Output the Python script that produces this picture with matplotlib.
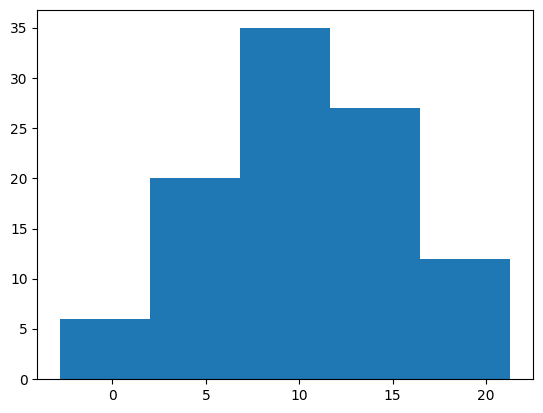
import matplotlib
matplotlib.use("Agg")
import matplotlib.pyplot as plt

# bin edges and counts
bin_edges = [-2.82, 2.0, 6.83, 11.65, 16.47, 21.3]
counts = [6, 20, 35, 27, 12]

centers = [(a + b) / 2 for a, b in zip(bin_edges[:-1], bin_edges[1:])]

fig = plt.figure(figsize=(5.43, 4.13), dpi=100)
ax = fig.add_axes([0.0687, 0.0823, 0.9123, 0.8927])
ax.hist(centers, bins=bin_edges, weights=counts, color='#1f77b4')

fig.savefig('out.png', dpi=100)
